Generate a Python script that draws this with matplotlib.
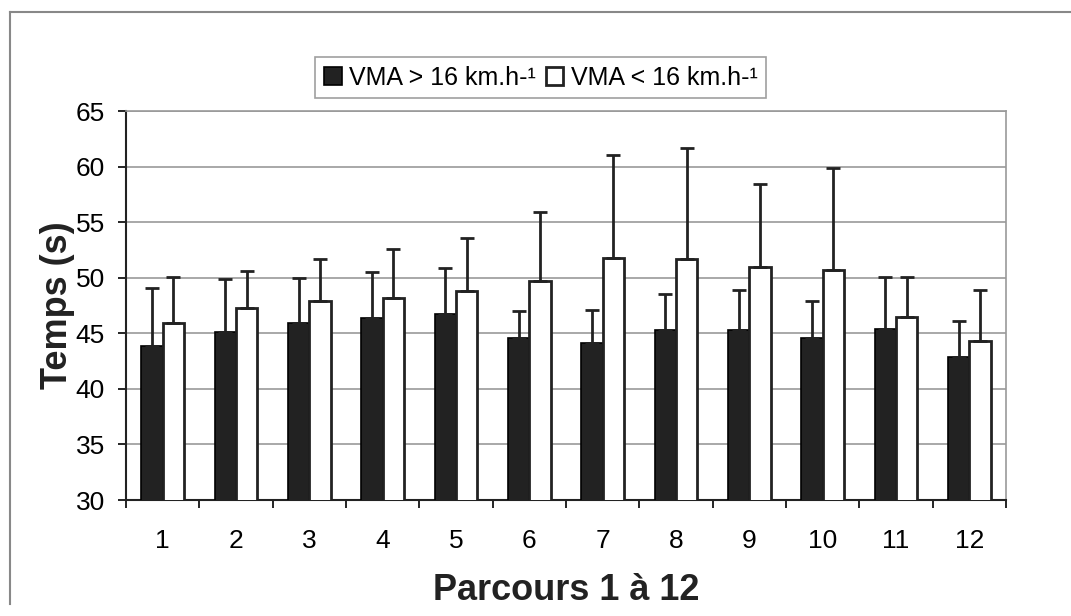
import numpy as np
import matplotlib
matplotlib.use('Agg')
import matplotlib.pyplot as plt
from matplotlib.lines import Line2D

# Données
parcours = ['1', '2', '3', '4', '5', '6', '7', '8', '9', '10', '11', '12']
vma_sup = [43.9, 45.1, 45.9, 46.4, 46.7, 44.6, 44.1, 45.3, 45.3, 44.6, 45.4, 42.9]
vma_sup_haut = [49.1, 49.9, 50.0, 50.5, 50.9, 47.0, 47.1, 48.5, 48.9, 47.9, 50.1, 46.1]
vma_inf = [45.9, 47.3, 47.9, 48.2, 48.8, 49.7, 51.8, 51.7, 51.0, 50.7, 46.5, 44.3]
vma_inf_haut = [50.1, 50.6, 51.7, 52.6, 53.6, 55.9, 61.0, 61.7, 58.4, 59.9, 50.1, 48.9]

plt.rcParams['font.family'] = ['Liberation Sans', 'DejaVu Sans']

fig = plt.figure(figsize=(10.71, 6.16), dpi=100)
ax = fig.add_axes([0.1176, 0.1883, 0.8217, 0.6315])

x = np.arange(1, len(parcours) + 1)
w = 0.29
err_sup = np.array(vma_sup_haut) - np.array(vma_sup)
err_inf = np.array(vma_inf_haut) - np.array(vma_inf)
zeros = np.zeros(len(x))

ax.bar(x - w / 2, vma_sup, w, bottom=0, color='#222222', edgecolor='black', linewidth=1.2,
       yerr=[zeros, err_sup], capsize=5,
       error_kw=dict(elinewidth=2, capthick=2, ecolor='#222222'),
       label='VMA > 16 km.h-¹', zorder=3)
ax.bar(x + w / 2, vma_inf, w, bottom=0, color='white', edgecolor='#222222', linewidth=2,
       yerr=[zeros, err_inf], capsize=5,
       error_kw=dict(elinewidth=2, capthick=2, ecolor='#222222'),
       label='VMA < 16 km.h-¹', zorder=3)

ax.set_ylim(30, 65)
ax.set_xlim(0.5, 12.5)
ax.set_yticks(range(30, 66, 5))
ax.yaxis.grid(True, color='#999999', linewidth=1.2, zorder=0)
ax.tick_params(axis='y', direction='out', length=6, width=1.2, labelsize=19, pad=9)

# graduations entre les catégories, étiquettes au centre
ax.set_xticks(np.arange(0.5, 12.6, 1))
ax.set_xticklabels([])
ax.set_xticks(x, minor=True)
ax.set_xticklabels(parcours, minor=True)
ax.tick_params(axis='x', which='major', direction='out', length=6, width=1.2)
ax.tick_params(axis='x', which='minor', length=0, labelsize=19, pad=21)

for s in ['left', 'bottom']:
    ax.spines[s].set_linewidth(1.5)
    ax.spines[s].set_color('#222222')
for s in ['top', 'right']:
    ax.spines[s].set_linewidth(1.2)
    ax.spines[s].set_color('#999999')

ax.set_ylabel('Temps (s)', fontsize=26, fontweight='bold', color='#222222')
ax.yaxis.set_label_coords(-0.058, 0.5)
ax.set_xlabel('Parcours 1 à 12', fontsize=26, fontweight='bold', color='#222222')
ax.xaxis.set_label_coords(0.5, -0.188)

leg = fig.legend(loc='center', bbox_to_anchor=(0.505, 0.874), ncol=2, fontsize=18,
                 frameon=True, fancybox=False, edgecolor='#888888',
                 handlelength=0.7, handleheight=0.7, handletextpad=0.3,
                 columnspacing=0.4, borderpad=0.35, borderaxespad=0)
leg.get_frame().set_linewidth(1.2)

# cadre extérieur du graphique
fig.add_artist(Line2D([10 / 1071, 1.0], [1 - 12 / 616, 1 - 12 / 616], color='#888888', linewidth=1.5))
fig.add_artist(Line2D([10 / 1071, 10 / 1071], [1 - 12 / 616, 0.02], color='#888888', linewidth=1.5))

fig.savefig('out.png', dpi=100)
